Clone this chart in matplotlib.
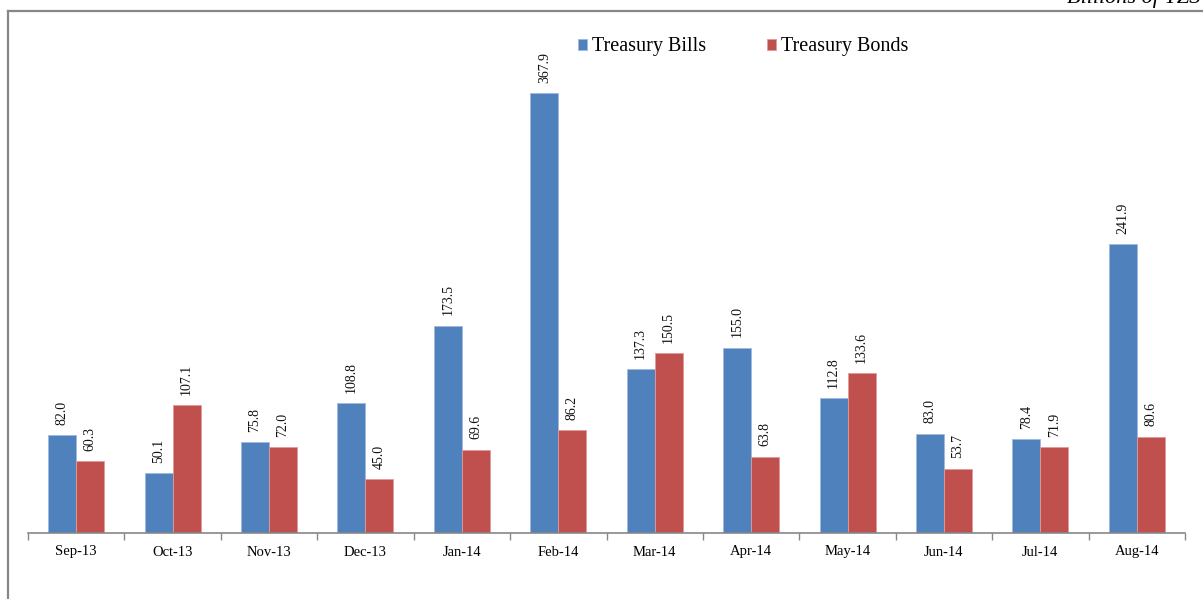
import numpy as np
import matplotlib
matplotlib.use('Agg')
import matplotlib.pyplot as plt
from matplotlib.lines import Line2D

months = ['Sep-13', 'Oct-13', 'Nov-13', 'Dec-13', 'Jan-14', 'Feb-14',
          'Mar-14', 'Apr-14', 'May-14', 'Jun-14', 'Jul-14', 'Aug-14']
bills = [82.0, 50.1, 75.8, 108.8, 173.5, 367.9, 137.3, 155.0, 112.8, 83.0, 78.4, 241.9]
bonds = [60.3, 107.1, 72.0, 45.0, 69.6, 86.2, 150.5, 63.8, 133.6, 53.7, 71.9, 80.6]

BLUE = '#4F81BD'
RED = '#C0504D'
GREY = '#878787'

plt.rcParams['font.family'] = ['Liberation Serif', 'DejaVu Serif']

fig = plt.figure(figsize=(12.03, 5.99), dpi=100)
ax = fig.add_axes([28 / 1203, 1 - 533 / 599, (1185 - 28) / 1203, 478 / 599])

x = np.arange(len(months))
w = 0.29
b1 = ax.bar(x - w / 2, bills, w, color=BLUE, edgecolor='#9fb9dc', linewidth=0.6, label='Treasury Bills')
b2 = ax.bar(x + w / 2, bonds, w, color=RED, edgecolor='#e09a98', linewidth=0.6, label='Treasury Bonds')

for bars, vals in ((b1, bills), (b2, bonds)):
    for rect, v in zip(bars, vals):
        ax.annotate(f'{v:.1f}', (rect.get_x() + rect.get_width() / 2, rect.get_height()),
                    xytext=(0, 7.5), textcoords='offset points', rotation=90,
                    ha='center', va='bottom', fontsize=10, color='#111111')

ax.set_xlim(-0.5, len(months) - 0.5)
ax.set_ylim(0, 400)
ax.set_xticks(x)
ax.set_xticklabels(months, fontsize=10.5)
ax.set_xticks(np.arange(len(months) + 1) - 0.5, minor=True)
ax.tick_params(axis='x', which='major', length=0, pad=9)
ax.tick_params(axis='x', which='minor', length=5, color=GREY, width=1)
ax.set_yticks([])
for s in ('top', 'right', 'left'):
    ax.spines[s].set_visible(False)
ax.spines['bottom'].set_color(GREY)
ax.spines['bottom'].set_linewidth(1.2)

fig.legend(handles=[b1, b2], loc='center', bbox_to_anchor=(743 / 1203, 1 - 47 / 599),
           ncol=2, frameon=False, fontsize=14.5, handlelength=0.45, handleheight=0.45,
           handletextpad=0.25, columnspacing=3.0)

# outer frame
fig.add_artist(Line2D([8 / 1203, 1], [1 - 11 / 599, 1 - 11 / 599], color=GREY, linewidth=1.6))
fig.add_artist(Line2D([8 / 1203, 8 / 1203], [0, 1 - 11 / 599], color=GREY, linewidth=1.6))

# unit note, partly cropped at the top edge as in the source
fig.text(1067 / 1203, 1 - 3 / 599, 'Billions of TZS', fontsize=16, style='italic',
         ha='left', va='baseline')

fig.savefig('out.png', dpi=100)
